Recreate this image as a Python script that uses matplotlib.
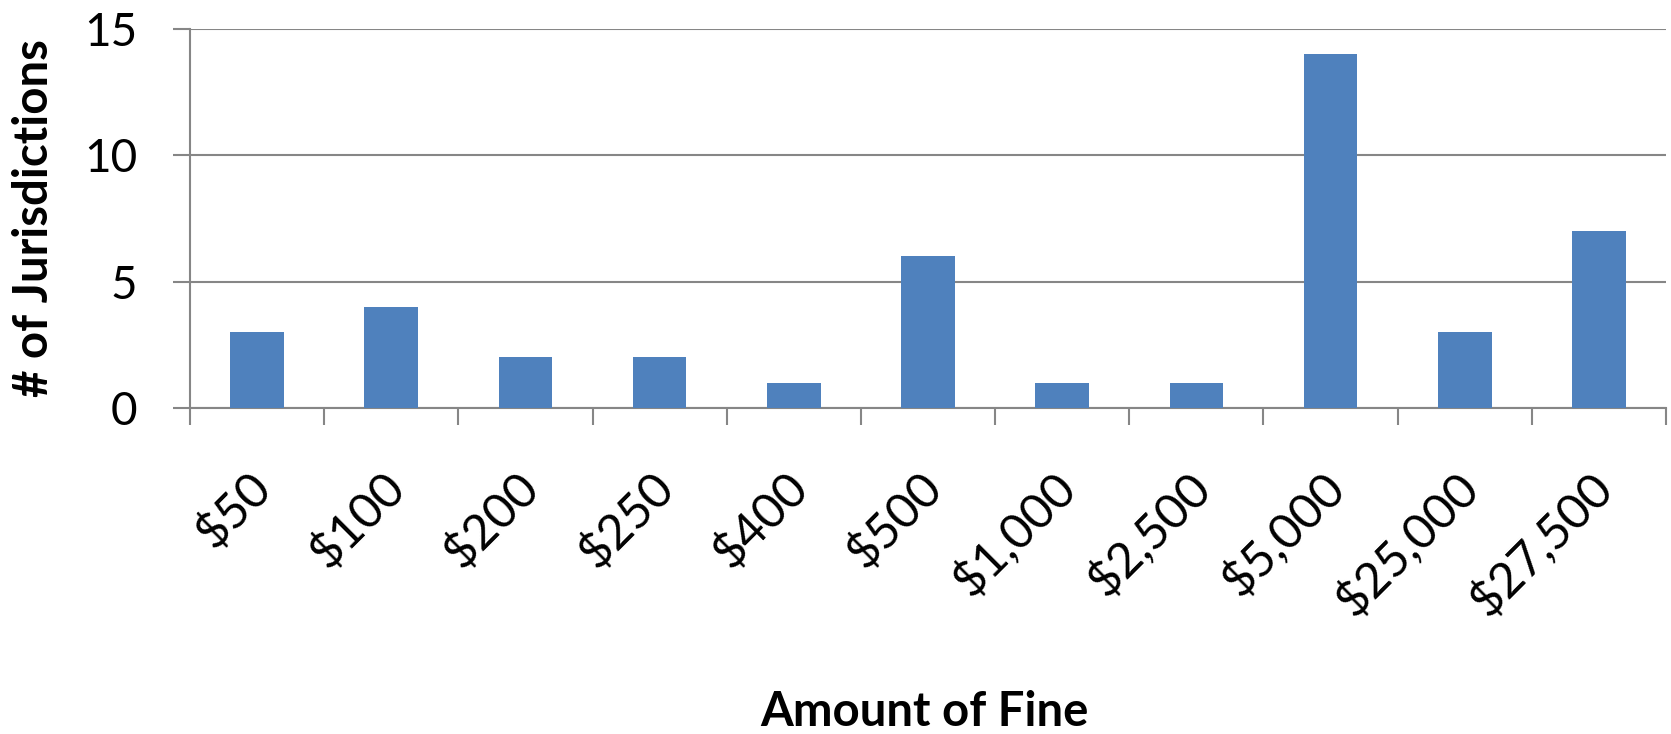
import matplotlib
matplotlib.use("Agg")
import matplotlib.pyplot as plt
import matplotlib.transforms as mtransforms
import numpy as np

categories = ["$50", "$100", "$200", "$250", "$400", "$500", "$1,000", "$2,500", "$5,000", "$25,000", "$27,500"]
counts = [3, 4, 2, 2, 1, 6, 1, 1, 14, 3, 7]

plt.rcParams['font.family'] = ['Lato', 'DejaVu Sans']

W, H = 1671, 734
fig = plt.figure(figsize=(W / 100, H / 100), dpi=100)
L, R, T, B = 190, 1666, 29, 408
ax = fig.add_axes([L / W, 1 - B / H, (R - L) / W, (B - T) / H])

grey = "#868686"
x = np.arange(len(categories))
ax.bar(x, counts, width=0.4, color="#4F81BD", zorder=3)
ax.set_xlim(-0.5, len(categories) - 0.5)
ax.set_ylim(0, 15)
ax.set_yticks([0, 5, 10, 15])
ax.yaxis.grid(True, color=grey, linewidth=1.5, zorder=0)
for s in ["top", "right"]:
    ax.spines[s].set_visible(False)
for s in ["left", "bottom"]:
    ax.spines[s].set_color(grey)
    ax.spines[s].set_linewidth(1.5)

ax.set_xticks(x)
ax.set_xticklabels(categories, rotation=45, ha="right", va="center",
                   rotation_mode="anchor", fontsize=35)
ax.tick_params(axis="x", which="major", length=0, pad=52)
offset = mtransforms.ScaledTranslation(6 / 100, 0, fig.dpi_scale_trans)
for lbl in ax.get_xticklabels():
    lbl.set_transform(lbl.get_transform() + offset)
ax.set_xticks(np.arange(-0.5, len(categories)), minor=True)
ax.tick_params(axis="x", which="minor", length=12, color=grey, width=1.5)
ax.tick_params(axis="y", labelsize=33, length=12, color=grey, width=1.5, pad=26)

fig.text(924 / W, 1 - 712 / H, "Amount of Fine", fontsize=34, fontweight="bold",
         ha="center", va="center")
fig.text(34 / W, 1 - 218 / H, "# of Jurisdictions", fontsize=34, fontweight="bold",
         ha="center", va="center", rotation=90)

fig.savefig("out.png", dpi=100)
